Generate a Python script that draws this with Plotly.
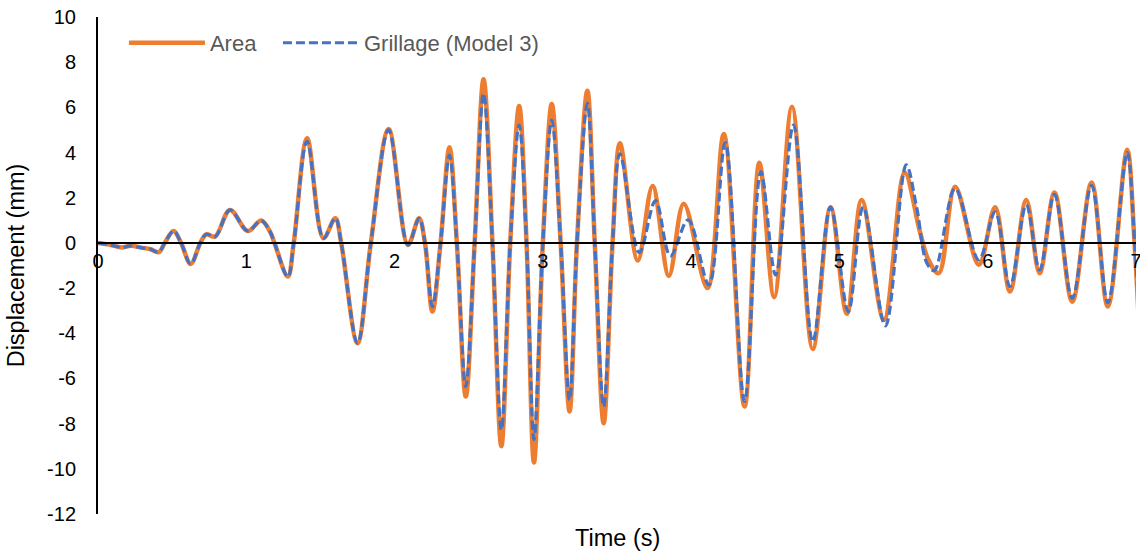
import plotly.graph_objects as go

# ---- data ----
t_area = [0.00, 0.08, 0.16, 0.22, 0.30, 0.35, 0.41, 0.45, 0.51, 0.56, 0.625, 0.69, 0.73, 0.79,
          0.89, 1.01, 1.10, 1.16, 1.19, 1.28, 1.32, 1.41, 1.52, 1.60, 1.64, 1.75, 1.84, 1.96,
          2.09, 2.165, 2.205, 2.255, 2.31, 2.37, 2.42, 2.48, 2.54, 2.60, 2.66, 2.72, 2.78, 2.84,
          2.89, 2.94, 3.00, 3.06, 3.12, 3.18, 3.23, 3.30, 3.35, 3.41, 3.47, 3.52, 3.64, 3.74,
          3.85, 3.95, 4.11, 4.22, 4.36, 4.46, 4.56, 4.68, 4.82, 4.94, 5.05, 5.15, 5.30, 5.44,
          5.54, 5.60, 5.67, 5.78, 5.94, 6.05, 6.15, 6.26, 6.35, 6.45, 6.57, 6.70, 6.81, 6.94,
          6.99, 7.03]
area = [0.00, -0.08, -0.20, -0.13, -0.22, -0.27, -0.41, 0.00, 0.53, 0.00, -0.93, 0.00, 0.38, 0.28,
        1.46, 0.53, 0.99, 0.50, 0.00, -1.49, 0.00, 4.63, 0.21, 1.09, 0.00, -4.44, 0.00, 5.04,
        -0.09, 1.09, 0.00, -3.04, 0.00, 4.23, 0.00, -6.80, 0.00, 7.24, 0.00, -9.00, 0.00, 6.06,
        0.00, -9.72, 0.00, 6.15, 0.00, -7.46, 0.00, 6.74, 0.00, -7.98, 0.00, 4.41, -0.78, 2.52,
        -1.46, 1.73, -2.00, 4.82, -7.24, 3.55, -2.40, 6.03, -4.70, 1.58, -3.14, 1.90, -3.41, 3.11,
        0.57, -0.75, -1.34, 2.49, -0.97, 1.58, -2.15, 1.90, -1.34, 2.23, -2.60, 2.67, -2.82, 4.12,
        0.00, -5.00]

t_grill = [0.00, 0.08, 0.16, 0.22, 0.30, 0.35, 0.41, 0.45, 0.51, 0.56, 0.625, 0.69, 0.73, 0.79,
           0.89, 1.01, 1.10, 1.16, 1.19, 1.28, 1.32, 1.41, 1.52, 1.60, 1.64, 1.75, 1.84, 1.96,
           2.09, 2.165, 2.205, 2.255, 2.31, 2.37, 2.42, 2.48, 2.54, 2.60, 2.66, 2.72, 2.78, 2.84,
           2.89, 2.94, 3.00, 3.06, 3.12, 3.18, 3.23, 3.30, 3.35, 3.41, 3.47, 3.52, 3.65, 3.76,
           3.86, 3.98, 4.12, 4.23, 4.36, 4.47, 4.57, 4.69, 4.82, 4.94, 5.06, 5.16, 5.31, 5.45,
           5.52, 5.59, 5.64, 5.78, 5.94, 6.05, 6.15, 6.26, 6.35, 6.45, 6.57, 6.70, 6.81, 6.94,
           6.99, 7.03]
grill = [0.00, -0.08, -0.20, -0.13, -0.22, -0.27, -0.41, 0.00, 0.53, 0.00, -0.93, 0.00, 0.38, 0.28,
         1.46, 0.53, 0.99, 0.50, 0.00, -1.49, 0.00, 4.50, 0.21, 1.09, 0.00, -4.44, 0.00, 5.00,
         -0.09, 1.09, 0.00, -2.82, 0.00, 3.89, 0.00, -6.36, 0.00, 6.62, 0.00, -8.27, 0.00, 5.22,
         0.00, -8.70, 0.00, 5.44, 0.00, -6.95, 0.00, 6.18, 0.00, -7.24, 0.00, 3.94, -0.43, 1.87,
         -0.58, 1.02, -1.86, 4.44, -7.02, 3.15, -1.42, 5.22, -4.37, 1.58, -3.04, 1.58, -3.67, 3.45,
         1.60, -0.90, -1.22, 2.40, -0.75, 1.38, -1.93, 1.68, -1.20, 2.15, -2.45, 2.55, -2.65, 4.00,
         0.10, -4.50]

x_ticks = [0, 1, 2, 3, 4, 5, 6, 7]
y_ticks = [-12, -10, -8, -6, -4, -2, 0, 2, 4, 6, 8, 10]

FONT = "Liberation Sans"

fig = go.Figure()
fig.add_trace(go.Scatter(
    x=t_area, y=area, mode="lines", name="Area", legendwidth=63,
    line=dict(color="#ED7D31", width=4.5, shape="spline", smoothing=1.0),
))
fig.add_trace(go.Scatter(
    x=t_grill, y=grill, mode="lines", name="Grillage (Model 3)",
    line=dict(color="#4472C4", width=3.2, dash="9px,4px", shape="spline", smoothing=1.0),
))

fig.update_layout(
    width=1140, height=552,
    margin=dict(l=98, r=4, t=17, b=38, autoexpand=False),
    paper_bgcolor="white", plot_bgcolor="white",
    font=dict(family=FONT, size=20, color="black"),
    showlegend=True,
    legend=dict(orientation="h", x=0.025, y=0.99, xanchor="left", yanchor="top",
                font=dict(family=FONT, size=22, color="#595959"),
                itemwidth=76, bgcolor="rgba(0,0,0,0)"),
    xaxis=dict(range=[0, 7], tickvals=x_ticks, ticktext=[str(v) for v in x_ticks],
               anchor="free", position=12 / 22, showline=True, linecolor="black", linewidth=2,
               showgrid=False, zeroline=False, ticks="", automargin=False,
               ticklabeloverflow="allow",
               tickfont=dict(size=20, color="black")),
    yaxis=dict(range=[-12, 10], tickvals=y_ticks, ticktext=[str(v) for v in y_ticks],
               showline=True, linecolor="black", linewidth=2, showgrid=False, zeroline=False,
               ticks="", ticklabelstandoff=16, automargin=False,
               tickfont=dict(size=20, color="black"),
               title=dict(text="Displacement (mm)", font=dict(size=23.5, color="black"), standoff=16)),
    annotations=[dict(text="Time (s)", xref="paper", yref="paper", x=0.5, y=0,
                      xanchor="center", yanchor="top", yshift=-9, showarrow=False,
                      font=dict(family=FONT, size=23.5, color="black"))],
)

fig.write_html("out.html", config={"displayModeBar": False},
               post_script="document.body.style.margin='0';")
